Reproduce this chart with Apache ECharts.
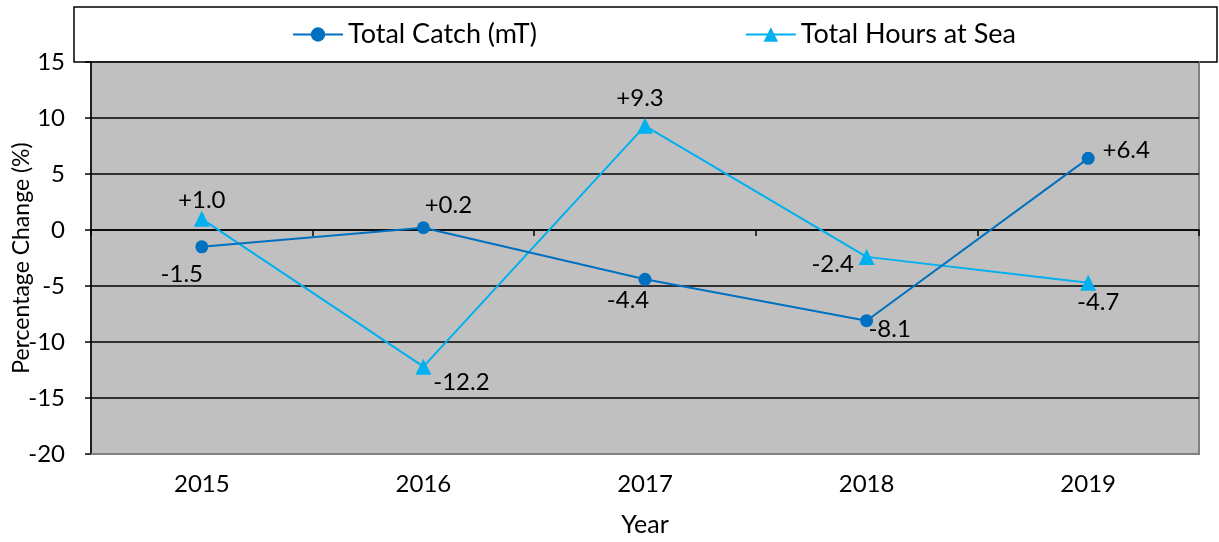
<!DOCTYPE html>
<html><head><meta charset="utf-8">
<script src="https://cdn.jsdelivr.net/npm/echarts@6/dist/echarts.min.js"></script>
<style>html,body{margin:0;padding:0;background:#fff}#c{width:1219px;height:542px}</style>
</head><body><div id="c"></div>
<script>
const years = ['2015','2016','2017','2018','2019'];
const catchChange = [-1.5, 0.2, -4.4, -8.1, 6.4];
const hoursChange = [1.0, -12.2, 9.3, -2.4, -4.7];
const seriesNames = ['Total Catch (mT)', 'Total Hours at Sea'];
const yTicks = {min: -20, max: 15, interval: 5};

const FONT = 'Lato';
const catchOffsets = [[-20,27],[25,-22],[-17,21],[23,9],[38,-8]];
const hoursOffsets = [[0,-19],[38,16],[-5,-28],[-34,7],[10,20]];
const fmt = v => (v > 0 ? '+' : '') + v.toFixed(1);
function items(vals, offs){
  return vals.map((v,i)=>({value:v, label:{offset:offs[i]}}));
}
const chart = echarts.init(document.getElementById('c'), null, {renderer:'canvas'});
chart.setOption({
  animation:false,
  backgroundColor:'#fff',
  textStyle:{fontFamily:FONT},
  graphic:[{type:'rect', shape:{x:74,y:7,width:1143,height:55}, style:{fill:'#fff', stroke:'#000', lineWidth:1.5}, z:-1}],
  legend:{top:16, left:287, itemWidth:50, itemHeight:18, itemGap:208,
    textStyle:{fontFamily:FONT, fontSize:27, color:'#000'}, data:seriesNames},
  grid:{left:91, right:20, top:62, bottom:88, containLabel:false, outerBoundsMode:'none',
    show:true, backgroundColor:'#C0C0C0', borderColor:'#808080', borderWidth:2},
  xAxis:[
    {type:'category', data:years, position:'bottom', boundaryGap:true,
     axisLine:{onZero:true, lineStyle:{color:'#000', width:1.5}},
     axisTick:{show:true, length:6, lineStyle:{color:'#000', width:1.5}},
     axisLabel:{show:false}, splitLine:{show:false}},
    {type:'category', data:years, position:'bottom', boundaryGap:true,
     axisLine:{onZero:false, show:true, lineStyle:{color:'#808080', width:2}},
     axisTick:{show:false},
     axisLabel:{margin:18, fontSize:24, color:'#000', fontFamily:FONT},
     name:'Year', nameLocation:'middle', nameGap:58, nameMoveOverlap:false,
     nameTextStyle:{fontSize:25, color:'#000', fontFamily:FONT}}
  ],
  yAxis:{type:'value', min:yTicks.min, max:yTicks.max, interval:yTicks.interval,
    axisLine:{show:true, onZero:false, lineStyle:{color:'#000', width:1.5}},
    axisTick:{show:true, length:6, lineStyle:{color:'#000', width:1.5}},
    axisLabel:{margin:26, fontSize:24, color:'#000', fontFamily:FONT},
    splitLine:{show:true, lineStyle:{color:'#000', width:1.5}},
    name:'Percentage Change (%)', nameLocation:'middle', nameGap:58, nameMoveOverlap:false,
    nameTextStyle:{fontSize:23, color:'#000', fontFamily:FONT}},
  series:[
    {name:seriesNames[0], type:'line', xAxisIndex:0, data:items(catchChange, catchOffsets),
     symbol:'circle', symbolSize:13, itemStyle:{color:'#0070C0'}, lineStyle:{color:'#0070C0', width:2},
     label:{show:true, position:'inside', formatter:p=>fmt(p.value), fontSize:24, color:'#000', fontFamily:FONT}, z:3},
    {name:seriesNames[1], type:'line', xAxisIndex:0, data:items(hoursChange, hoursOffsets),
     symbol:'triangle', symbolSize:16, itemStyle:{color:'#00B0F0'}, lineStyle:{color:'#00B0F0', width:2},
     label:{show:true, position:'inside', formatter:p=>fmt(p.value), fontSize:24, color:'#000', fontFamily:FONT}, z:2}
  ]
});
</script></body></html>
